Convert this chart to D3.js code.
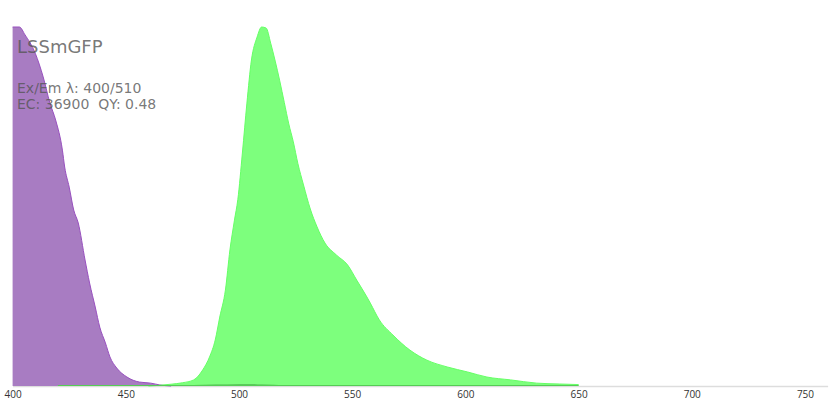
<!doctype html>
<html>
<head>
<meta charset="utf-8"/>
<title>LSSmGFP</title>
<script src="https://d3js.org/d3.v7.min.js"></script>
<style>
body { margin: 0; background: #fff; }
text { font-family: "Open Sans", "DejaVu Sans", sans-serif; }
.info { font-family: "DejaVu Sans", sans-serif; }
</style>
</head>
<body>
<script type="text/javascript">
// excitation spectrum (nm, normalised)
var exWave = [400, 403, 405.5, 410, 413.5, 416.5, 419, 422, 423, 425, 427, 429, 432, 434, 436.5, 438.5, 441, 443, 446, 450.5, 456, 461, 465, 470];
var exValue = [1.0, 1.0, 0.978, 0.927, 0.861, 0.788, 0.741, 0.657, 0.61, 0.554, 0.49, 0.454, 0.351, 0.287, 0.22, 0.164, 0.12, 0.081, 0.05, 0.025, 0.011, 0.008, 0.003, 0];

// emission spectrum
var emWave = [460, 465, 470, 475, 480, 484, 487, 489.5, 491.5, 494, 496, 498, 499.5, 501.5, 503.5, 505.5, 508, 510, 512, 514, 516, 518, 520, 522, 524, 526, 528.5, 531.5, 534.5, 538, 543, 548, 552, 556.5, 558, 562, 568, 575.5, 583, 592, 601, 609.5, 620, 631.5, 641.5, 650];
var emValue = [0, 0.002, 0.005, 0.009, 0.017, 0.045, 0.081, 0.128, 0.192, 0.267, 0.379, 0.462, 0.52, 0.649, 0.788, 0.908, 0.972, 1.0, 0.997, 0.955, 0.905, 0.85, 0.79, 0.73, 0.68, 0.62, 0.56, 0.493, 0.443, 0.398, 0.365, 0.337, 0.295, 0.248, 0.231, 0.184, 0.142, 0.1, 0.072, 0.053, 0.039, 0.025, 0.017, 0.008, 0.0056, 0.004];

// faint second emission band
var em2Wave = [420, 440, 460, 480, 490, 500, 505, 510, 520, 530];
var em2Value = [0, 0.001, 0.002, 0.003, 0.004, 0.005, 0.005, 0.004, 0.002, 0];

var ticks = [400, 450, 500, 550, 600, 650, 700, 750];

var svg = d3.select("body").append("svg")
  .attr("width", 840)
  .attr("height", 420);

var x = d3.scaleLinear().domain([400, 760]).range([12.6, 827.6]);
var y = d3.scaleLinear().domain([0, 1]).range([386, 27]);

function pts(w, v) {
  return w.map(function(d, i) { return [d, v[i]]; });
}

var area = d3.area()
  .x(function(d) { return x(d[0]); })
  .y0(y(0))
  .y1(function(d) { return y(d[1]); })
  .curve(d3.curveMonotoneX);

var line = d3.line()
  .x(function(d) { return x(d[0]); })
  .y(function(d) { return y(d[1]); })
  .curve(d3.curveMonotoneX);

// axis
var axis = svg.append("g")
  .attr("transform", "translate(0," + y(0) + ")")
  .call(d3.axisBottom(x).tickValues(ticks).tickSize(0).tickPadding(5));
axis.select(".domain").attr("stroke", "#ddd").attr("stroke-width", 1.5);
axis.selectAll("text").attr("fill", "#333").attr("font-size", 10);

// excitation
svg.append("path")
  .datum(pts(exWave, exValue))
  .attr("d", area)
  .attr("fill", "#a87cc2");
svg.append("path")
  .datum(pts(exWave, exValue))
  .attr("d", line)
  .attr("fill", "none")
  .attr("stroke", "#9850bf")
  .attr("stroke-width", 1);

// emission
svg.append("path")
  .datum(pts(emWave, emValue))
  .attr("d", area)
  .attr("fill", "#7dff7d");
svg.append("path")
  .datum(pts(emWave, emValue))
  .attr("d", line)
  .attr("fill", "none")
  .attr("stroke", "#66ff66")
  .attr("stroke-width", 1);

svg.append("path")
  .datum(pts(em2Wave, em2Value))
  .attr("d", area)
  .attr("fill", "#3c9a3c")
  .attr("opacity", 0.7);

// baseline of emission range
svg.append("line")
  .attr("x1", x(420)).attr("x2", x(650))
  .attr("y1", y(0) - 0.5).attr("y2", y(0) - 0.5)
  .attr("stroke", "#55cc55").attr("stroke-width", 1);

// labels
svg.append("text")
  .attr("class", "info")
  .attr("x", 17).attr("y", 53)
  .attr("font-size", 18)
  .attr("fill", "#555")
  .attr("fill-opacity", 0.8)
  .text("LSSmGFP");
svg.append("text")
  .attr("class", "info")
  .attr("x", 17).attr("y", 93)
  .attr("font-size", 14)
  .attr("fill", "#555")
  .attr("fill-opacity", 0.8)
  .text("Ex/Em \u03bb: 400/510");
svg.append("text")
  .attr("class", "info")
  .attr("x", 17).attr("y", 109)
  .attr("font-size", 14)
  .attr("fill", "#555")
  .attr("fill-opacity", 0.8)
  .style("white-space", "pre")
  .text("EC: 36900  QY: 0.48");
</script>
</body>
</html>
